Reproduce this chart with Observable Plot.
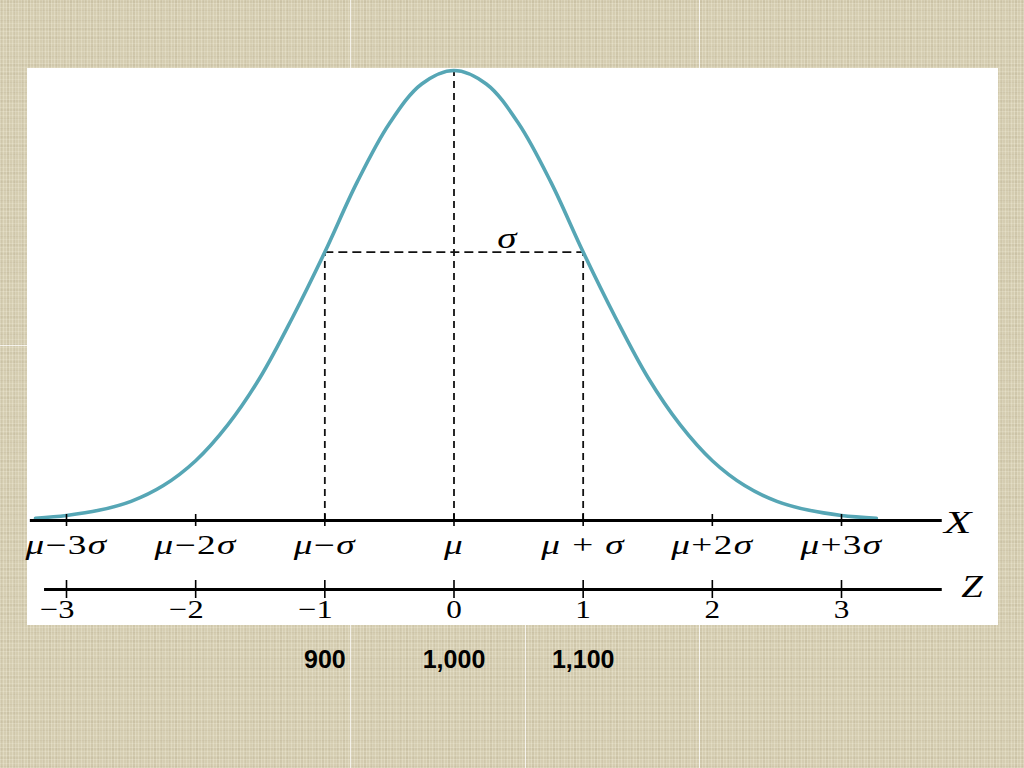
<!DOCTYPE html>
<html>
<head>
<meta charset="utf-8">
<script src="https://cdn.jsdelivr.net/npm/d3@7"></script>
<script src="https://cdn.jsdelivr.net/npm/@observablehq/plot@0.6"></script>
<style>
  html, body { margin: 0; padding: 0; width: 1024px; height: 768px; overflow: hidden; }
  body {
    position: relative;
    background-color: #d5cdb1;
    background-image:
      repeating-linear-gradient(90deg, rgba(255,253,240,0.22) 0px, rgba(255,253,240,0.22) 1px, transparent 1px, transparent 3px),
      repeating-linear-gradient(0deg, rgba(255,253,240,0.16) 0px, rgba(255,253,240,0.16) 1px, transparent 1px, transparent 4px),
      repeating-linear-gradient(90deg, rgba(130,115,80,0.07) 0px, rgba(130,115,80,0.07) 2px, transparent 2px, transparent 7px),
      repeating-linear-gradient(0deg, rgba(130,115,80,0.06) 0px, rgba(130,115,80,0.06) 2px, transparent 2px, transparent 9px);
  }
  .seam { position: absolute; background: rgba(255,255,255,0.75); }
  #panel { position: absolute; left: 27px; top: 68px; width: 971px; height: 557px; background: #ffffff; }
  #chart { position: absolute; left: 0; top: 0; }
</style>
</head>
<body>
<div class="seam" style="left:350px;top:0;width:1px;height:768px"></div>
<div class="seam" style="left:699px;top:0;width:1px;height:768px"></div>
<div class="seam" style="left:525px;top:625px;width:1px;height:143px"></div>
<div class="seam" style="left:0;top:345px;width:27px;height:1px"></div>
<div id="panel"></div>
<div id="chart"></div>
<script>
// ---- data ----
const zTicks = [-3, -2, -1, 0, 1, 2, 3];
const xTickLabels = ["μ−3σ", "μ−2σ", "μ−σ", "μ", "μ + σ", "μ+2σ", "μ+3σ"];
const zTickLabels = ["−3", "−2", "−1", "0", "1", "2", "3"];
const valueTicks = [-1, 0, 1];
const valueLabels = ["900", "1,000", "1,100"];

// curve (z, relative density)
const curveZ = [-3.24, -3.0, -2.75, -2.5, -2.25, -2.0, -1.75, -1.5, -1.25, -1.0, -0.75, -0.5, -0.25, 0,
                0.25, 0.5, 0.75, 1.0, 1.25, 1.5, 1.75, 2.0, 2.25, 2.5, 2.75, 3.0, 3.27];
const curveDensity = [0.002, 0.0045, 0.009, 0.017, 0.031, 0.053, 0.085, 0.127, 0.180, 0.238, 0.300, 0.352, 0.387, 0.399,
                      0.387, 0.352, 0.300, 0.238, 0.180, 0.127, 0.085, 0.053, 0.031, 0.017, 0.009, 0.0045, 0.002];

const peakDensity = 0.399;
const sigmaDensity = 0.238;
const sigmaSpan = [-1, 1];
const xAxisExtent = [-3.28, 3.78];
const zAxisExtent = [-3.17, 3.78];
const axisNames = ["X", "Z"];
const axisNameZ = [3.9, 4.01];
const sigmaLabelZ = 0.41;

const curve = curveZ.map((z, i) => ({z, f: curveDensity[i]}));

const serif = "Liberation Serif, DejaVu Serif, serif";
const sans = "Liberation Sans, Arial, sans-serif";
const zAxisOffset = 69;
const tag = name => () => name;   // constant aria-label used to find the texts afterwards

const chart = Plot.plot({
  width: 1024,
  height: 768,
  margin: 0,
  x: {domain: [-3, 3], range: [66, 841], axis: null},
  y: {domain: [0, peakDensity], range: [520, 70], axis: null},
  style: {background: "transparent", overflow: "visible", fontFamily: serif},
  marks: [
    // dashed guides
    Plot.ruleX([0], {y1: 0, y2: peakDensity, stroke: "#111", strokeWidth: 1.8, strokeDasharray: "7,5"}),
    Plot.ruleX(sigmaSpan, {y1: 0, y2: sigmaDensity, stroke: "#111", strokeWidth: 1.8, strokeDasharray: "7,5"}),
    Plot.ruleY([sigmaDensity], {x1: sigmaSpan[0], x2: sigmaSpan[1], stroke: "#111", strokeWidth: 1.8, strokeDasharray: "9,5"}),
    // normal curve
    Plot.line(curve, {x: "z", y: "f", curve: "catmull-rom", stroke: "#56a6b5", strokeWidth: 3.6}),
    // X axis
    Plot.ruleY([0], {x1: xAxisExtent[0], x2: xAxisExtent[1], stroke: "#000", strokeWidth: 3}),
    Plot.ruleX(zTicks, {y1: 0, y2: 0, insetTop: -6, insetBottom: -6, stroke: "#000", strokeWidth: 1.6}),
    Plot.text(zTicks, {x: d => d, y: 0, text: (d, i) => xTickLabels[i], dy: 25, fontSize: 27,
      fontFamily: serif, fill: "#000", ariaLabel: tag("xlabels")}),
    // Z axis
    Plot.ruleY([0], {x1: zAxisExtent[0], x2: zAxisExtent[1], dy: zAxisOffset, stroke: "#000", strokeWidth: 3}),
    Plot.ruleX(zTicks, {y1: 0, y2: 0, insetTop: -9, insetBottom: -9, dy: zAxisOffset, stroke: "#000", strokeWidth: 1.6}),
    Plot.text(zTicks.filter(d => d < 0), {x: d => d, y: 0, text: d => zTickLabels[zTicks.indexOf(d)],
      textAnchor: "end", dx: 8, dy: zAxisOffset + 20, fontSize: 26, fontFamily: serif, fill: "#000",
      ariaLabel: tag("zlabels-neg")}),
    Plot.text(zTicks.filter(d => d >= 0), {x: d => d, y: 0, text: d => zTickLabels[zTicks.indexOf(d)],
      dy: zAxisOffset + 20, fontSize: 26, fontFamily: serif, fill: "#000", ariaLabel: tag("zlabels-pos")}),
    // axis names
    Plot.text([0], {x: axisNameZ[0], y: 0, text: () => axisNames[0], dy: 3, fontSize: 31,
      fontFamily: serif, fontStyle: "italic", fill: "#000", ariaLabel: tag("name-x")}),
    Plot.text([0], {x: axisNameZ[1], y: 0, text: () => axisNames[1], dy: zAxisOffset - 2, fontSize: 31,
      fontFamily: serif, fontStyle: "italic", fill: "#000", ariaLabel: tag("name-z")}),
    // sigma label
    Plot.text([0], {x: sigmaLabelZ, y: sigmaDensity, text: () => "σ", dy: -14, fontSize: 30,
      fontFamily: serif, fontStyle: "italic", fill: "#000", ariaLabel: tag("sigma")}),
    // values below
    Plot.text(valueTicks, {x: d => d, y: 0, text: (d, i) => valueLabels[i], dy: 139, fontSize: 25,
      fontWeight: "bold", fontFamily: sans, fill: "#000"})
  ]
});

document.getElementById("chart").appendChild(chart);

// italicize Greek letters inside the X tick labels
chart.querySelectorAll('text[aria-label="xlabels"]').forEach(t => {
  const s = t.textContent;
  t.textContent = "";
  for (const c of s) {
    const ts = document.createElementNS("http://www.w3.org/2000/svg", "tspan");
    ts.textContent = c;
    if (/[μσ]/.test(c)) ts.setAttribute("font-style", "italic");
    t.appendChild(ts);
  }
  t.setAttribute("letter-spacing", "1");
});

// the reference math glyphs are wide: stretch them horizontally around their anchor
function stretch(label, k) {
  chart.querySelectorAll(`text[aria-label="${label}"]`).forEach(t => {
    const tr = t.getAttribute("transform") || "";
    if (/translate/.test(tr)) {
      t.setAttribute("transform", tr + ` scale(${k},1)`);
    } else {
      const x = +(t.getAttribute("x") || 0), y = +(t.getAttribute("y") || 0);
      t.removeAttribute("x");
      t.removeAttribute("y");
      t.setAttribute("transform", `${tr} translate(${x},${y}) scale(${k},1)`.trim());
    }
  });
}
stretch("xlabels", 1.38);
stretch("zlabels-neg", 1.25);
stretch("zlabels-pos", 1.2);
stretch("name-x", 1.45);
stretch("name-z", 1.25);
stretch("sigma", 1.3);
</script>
</body>
</html>
